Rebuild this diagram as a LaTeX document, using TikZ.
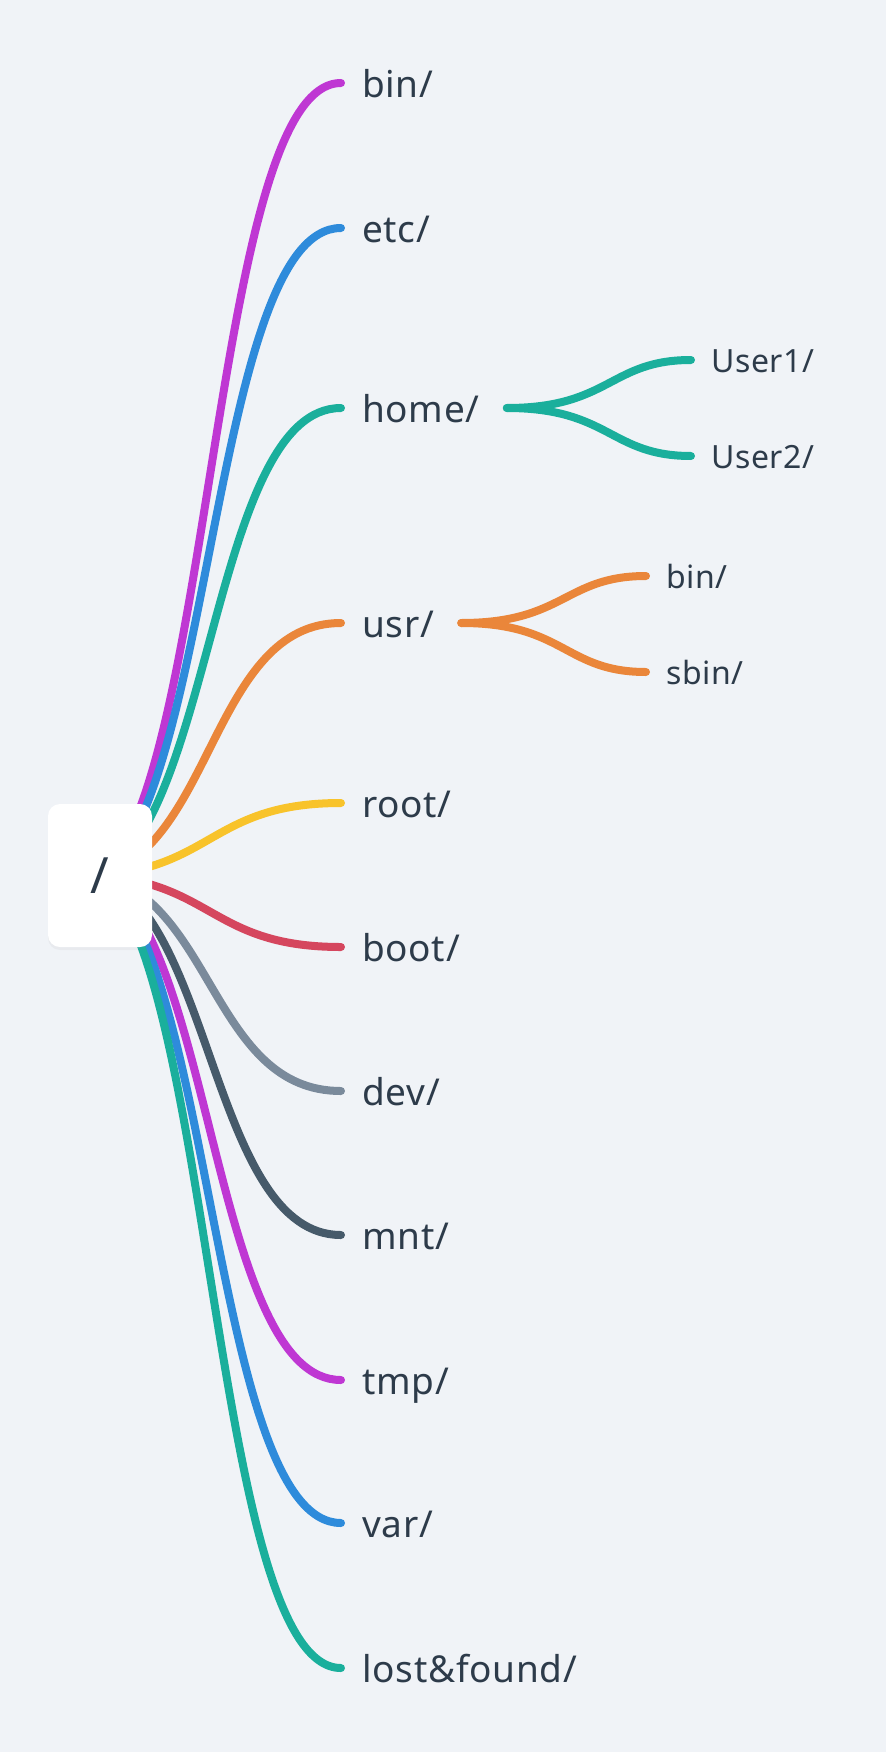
\documentclass[tikz,border=0pt]{standalone}
\usepackage{fontspec}
\setmainfont{Noto Sans}[LetterSpace=2]
\usetikzlibrary{calc,backgrounds,shadows}

\definecolor{bgcol}{HTML}{F0F3F7}
\definecolor{txtcol}{HTML}{2D3B4A}
\definecolor{mmPurple}{HTML}{BF37D3}
\definecolor{mmBlue}{HTML}{2E8BDB}
\definecolor{mmTeal}{HTML}{1AAF9C}
\definecolor{mmOrange}{HTML}{EA863A}
\definecolor{mmYellow}{HTML}{F8C32B}
\definecolor{mmRed}{HTML}{D5465E}
\definecolor{mmGray}{HTML}{7A8A9B}
\definecolor{mmSlate}{HTML}{465A6A}

\tikzset{
  topic/.style={anchor=west, inner xsep=21pt, inner ysep=0pt,
    text height=29pt, text depth=0pt, text=txtcol,
    font=\fontsize{37}{44}\selectfont},
  subtopic/.style={topic, inner xsep=20pt, text height=24pt,
    font=\fontsize{32}{38}\selectfont},
  rootbox/.style={fill=white, rounded corners=12pt, minimum width=104pt,
    minimum height=143pt, text=txtcol, font=\fontsize{50}{60}\selectfont,
    drop shadow={shadow xshift=0pt, shadow yshift=-3pt, opacity=0.07}},
  branch/.style={line width=8pt, line cap=round},
}

\begin{document}
\begin{tikzpicture}[x=1pt,y=-1pt]
  \useasboundingbox (0,0) rectangle (886,1752);
  % root
  \node[rootbox] (top) at (100,875.5) {/};
  % first level
  \node[topic] (bin) at (341,83) {bin/};
  \node[topic] (etc) at (341,228) {etc/};
  \node[topic] (home) at (341,408) {home/};
  \node[topic] (usr) at (341,623) {usr/};
  \node[topic] (rootdir) at (341,803) {root/};
  \node[topic] (boot) at (341,947) {boot/};
  \node[topic] (dev) at (341,1091) {dev/};
  \node[topic] (mnt) at (341,1235) {mnt/};
  \node[topic] (tmp) at (341,1380) {tmp/};
  \node[topic] (var) at (341,1523) {var/};
  \node[topic] (lost) at (341,1668) {lost\&found/};
  % second level
  \node[subtopic] (user1) at (691,360) {User1/};
  \node[subtopic] (user2) at (691,456) {User2/};
  \node[subtopic] (ubin) at (646,576) {bin/};
  \node[subtopic] (usbin) at (646,672) {sbin/};

  \begin{pgfonlayer}{background}
    \fill[bgcol] (0,0) rectangle (886,1752);
    \foreach \name/\col in {bin/mmPurple, etc/mmBlue, home/mmTeal, usr/mmOrange,
        rootdir/mmYellow, boot/mmRed, dev/mmGray, mnt/mmSlate,
        tmp/mmPurple, var/mmBlue, lost/mmTeal}
      \draw[branch,\col] let \p1=(top.center), \p2=(\name.west) in
        (\p1) .. controls ({\x1+0.47*(\x2-\x1)},{\y1+0.12*(\y2-\y1)})
        and ({\x1+0.47*(\x2-\x1)},\y2) .. (\p2);
    \foreach \from/\name/\col in {home/user1/mmTeal, home/user2/mmTeal,
        usr/ubin/mmOrange, usr/usbin/mmOrange}
      \draw[branch,\col] let \p1=([xshift=6pt]\from.east), \p2=(\name.west) in
        (\p1) .. controls ({\x1+0.56*(\x2-\x1)},\y1)
        and ({\x1+0.56*(\x2-\x1)},\y2) .. (\p2);
  \end{pgfonlayer}
\end{tikzpicture}
\end{document}
